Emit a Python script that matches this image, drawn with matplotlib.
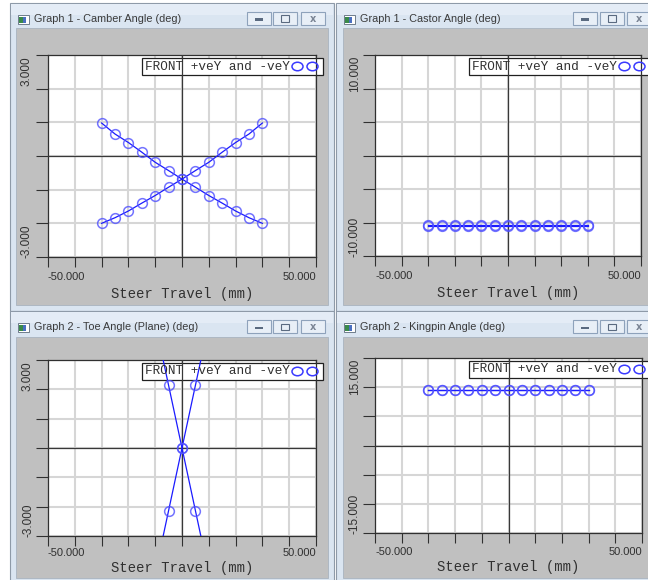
import numpy as np
import matplotlib
matplotlib.use("Agg")
import matplotlib.pyplot as plt
from matplotlib.patches import Rectangle, Ellipse

# ---- data ----
steer = [-30, -25, -20, -15, -10, -5, 0, 5, 10, 15, 20, 25, 30]

camber_pos = [1.47, 0.98, 0.60, 0.17, -0.28, -0.65, -1.03, -1.39, -1.76, -2.10, -2.45, -2.75, -3.00]
camber_neg = [-3.00, -2.75, -2.45, -2.10, -1.76, -1.39, -1.03, -0.65, -0.28, 0.17, 0.60, 0.98, 1.47]

castor_pos = [-10.45, -10.45, -10.45, -10.45, -10.45, -10.45, -10.45, -10.45, -10.45, -10.45, -10.45, -10.45, -10.45]
castor_neg = [-10.35, -10.35, -10.35, -10.35, -10.35, -10.35, -10.35, -10.35, -10.35, -10.35, -10.35, -10.35, -10.35]

toe_pos = [19.6, 16.2, 12.9, 9.6, 6.4, 3.2, 0.0, -3.2, -6.4, -9.6, -12.9, -16.2, -19.6]
toe_neg = [-19.6, -16.2, -12.9, -9.6, -6.4, -3.2, 0.0, 3.2, 6.4, 9.6, 12.9, 16.2, 19.6]

kingpin_pos = [14.2, 14.2, 14.2, 14.2, 14.2, 14.2, 14.2, 14.2, 14.2, 14.2, 14.2, 14.2, 14.2]
kingpin_neg = [14.25, 14.25, 14.25, 14.25, 14.25, 14.25, 14.25, 14.25, 14.25, 14.25, 14.25, 14.25, 14.25]

titles = ["Graph 1 - Camber Angle (deg)", "Graph 1 - Castor Angle (deg)",
          "Graph 2 - Toe Angle (Plane) (deg)", "Graph 2 - Kingpin Angle (deg)"]
ytop_labels = ["3.000", "10.000", "3.000", "15.000"]
ybot_labels = ["-3.000", "-10.000", "-3.000", "-15.000"]
ylims = [4.5, 15, 4.5, 22.5]
legend_text = "FRONT +veY and -veY"
xlabel = "Steer Travel (mm)"

W, H = 648, 580
fig = plt.figure(figsize=(W / 100, H / 100), dpi=100)
fig.patch.set_facecolor("white")


def fx(x):
    return x / W


def fy(y):
    return 1 - y / H


def rect(x0, y0, x1, y1, **kw):
    r = Rectangle((fx(x0), fy(y1)), (x1 - x0) / W, (y1 - y0) / H,
                  transform=fig.transFigure, zorder=-1, **kw)
    fig.add_artist(r)
    return r


def window(x0, y0, x1, y1, gx0, gy0, gx1, gy1, title, btn_x):
    rect(x0, y0, x1, y1, facecolor="#dae5f1", edgecolor="#8e9aa8", lw=0.8)
    rect(x0 + 1, y0 + 1, x1 - 1, y0 + 12, facecolor="#e4ecf6", edgecolor="none")
    rect(gx0, gy0, gx1, gy1, facecolor="#c0c0c0", edgecolor="#a9b4c0", lw=0.6)
    # icon
    rect(x0 + 8, y0 + 12, x0 + 19, y0 + 21, facecolor="white", edgecolor="#5a6a7a", lw=0.6)
    rect(x0 + 9, y0 + 14, x0 + 13, y0 + 20, facecolor="#3a8a4a", edgecolor="none")
    rect(x0 + 13, y0 + 14, x0 + 16, y0 + 20, facecolor="#4a70c0", edgecolor="none")
    fig.text(fx(x0 + 24), fy(y0 + 16), title, fontsize=7.8, family="Liberation Sans",
             color="#3a3a3a", va="center", ha="left")
    # caption buttons
    for i, bx in enumerate(btn_x):
        rect(bx, y0 + 9, bx + 24, y0 + 22, facecolor="#e8eff7", edgecolor="#8ea2bb", lw=0.8)
        cx, cy = bx + 12, y0 + 15.5
        if i == 0:
            rect(cx - 4, cy, cx + 4, cy + 2, facecolor="#5a6a80", edgecolor="none")
        elif i == 1:
            rect(cx - 4, cy - 3, cx + 4, cy + 3, facecolor="none", edgecolor="#5a6a80", lw=0.8)
        else:
            fig.text(fx(cx), fy(cy), "x", fontsize=7, color="#7a8494",
                     ha="center", va="center", weight="bold")


# window frames
window(10, 3, 334, 311, 16, 28, 328, 305, titles[0], [247, 273, 301])
window(336, 3, 668, 311, 343, 28, 668, 305, titles[1], [573, 600, 627])
window(10, 311, 334, 592, 16, 337, 328, 578, titles[2], [247, 273, 301])
window(336, 311, 668, 592, 343, 337, 668, 578, titles[3], [573, 600, 627])

# axes boxes in pixels: left, right, top, bottom
boxes = [(48, 316, 55, 257), (375, 641, 55, 256), (48, 316, 360, 536), (375, 642, 358, 533)]
series = [(camber_pos, camber_neg), (castor_pos, castor_neg),
          (toe_pos, toe_neg), (kingpin_pos, kingpin_neg)]
tick_off = [(20, 37), (20, 37), (17, 32), (19, 34)]
ylab_x = [27, 355, 28, 355]

for k in range(4):
    l, r, t, b = boxes[k]
    ax = fig.add_axes([fx(l), fy(b), (r - l) / W, (b - t) / H])
    ax.set_facecolor("white")
    ax.set_xlim(-50, 50)
    lim = ylims[k]
    ax.set_ylim(-lim, lim)
    ax.set_xticks(np.arange(-50, 51, 10))
    ax.set_yticks(np.linspace(-lim, lim, 7))
    ax.set_xticklabels([])
    ax.set_yticklabels([])
    ax.tick_params(axis="y", direction="out", length=9, width=0.8, color="#303030")
    ax.tick_params(axis="x", direction="out", length=7.5, width=0.8, color="#303030")
    ax.set_axisbelow(True)
    ax.grid(True, color="#d6d6d6", lw=1.5)
    for s in ax.spines.values():
        s.set_color("#303030")
        s.set_linewidth(0.9)
    ax.axhline(0, color="#383838", lw=0.9, zorder=3)
    ax.axvline(0, color="#383838", lw=0.9, zorder=3)

    ypos, yneg = series[k]
    for yy in (ypos, yneg):
        ax.plot(steer, yy, color="#1a1aff", lw=0.9, zorder=4)
        ax.plot(steer, yy, ls="none", marker="o", ms=7, mfc="none",
                mec="#5050ff", mew=1.1, alpha=0.8, zorder=5)

    # legend box
    lx0, ly0 = l + 94, t + 3
    lx1, ly1 = lx0 + 181, ly0 + 17
    ax.add_patch(Rectangle((fx(lx0), fy(ly1)), (lx1 - lx0) / W, (ly1 - ly0) / H,
                           transform=fig.transFigure, facecolor="white",
                           edgecolor="#202020", lw=0.9, clip_on=False, zorder=2))
    ax.text(fx(lx0 + 3), fy(ly0 + 8.5), legend_text, transform=fig.transFigure,
            family="Liberation Mono", fontsize=9.2, color="#303030",
            ha="left", va="center", zorder=6, clip_on=False)
    for cx in (lx1 - 25.5, lx1 - 10.5):
        ax.add_patch(Ellipse((fx(cx), fy(ly0 + 8.5)), 11 / W, 8.5 / H,
                             transform=fig.transFigure, facecolor="none",
                             edgecolor="#3a3aff", lw=1.1, clip_on=False, zorder=6))

    # tick labels placed at the axis ends
    to1, to2 = tick_off[k]
    fig.text(fx(l), fy(b + to1), "-50.000", family="Liberation Sans", fontsize=8,
             color="#303030", ha="left", va="center")
    fig.text(fx(r), fy(b + to1), "50.000", family="Liberation Sans", fontsize=8,
             color="#303030", ha="right", va="center")
    fig.text(fx((l + r) / 2), fy(b + to2), xlabel, family="Liberation Mono",
             fontsize=10, color="#303030", ha="center", va="center")
    fig.text(fx(ylab_x[k]), fy(t + 1), ytop_labels[k], family="Liberation Sans",
             fontsize=8.5, color="#303030", rotation=90, rotation_mode="anchor",
             ha="right", va="center")
    fig.text(fx(ylab_x[k]), fy(b + 1), ybot_labels[k], family="Liberation Sans",
             fontsize=8.5, color="#303030", rotation=90, rotation_mode="anchor",
             ha="left", va="center")

fig.savefig("out.png", dpi=100)
